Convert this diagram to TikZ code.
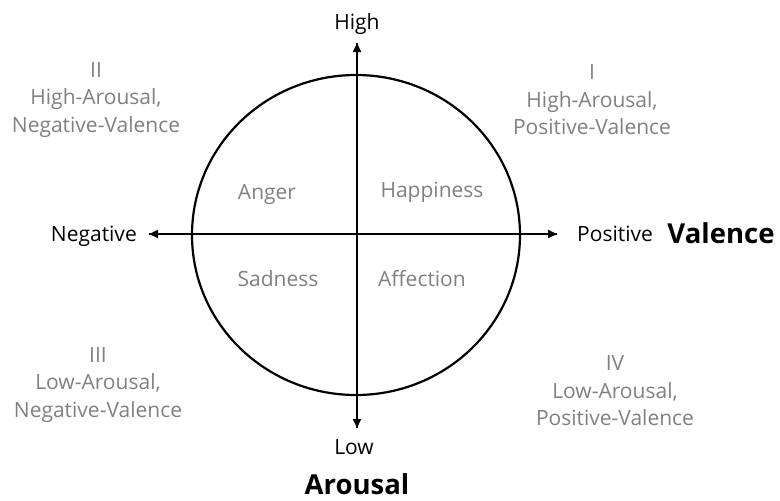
\documentclass[tikz,border=0pt]{standalone}
\usepackage{fontspec}
\setmainfont{Open Sans}
\usetikzlibrary{arrows.meta}
\definecolor{txtgray}{RGB}{128,128,128}
\begin{document}
\begin{tikzpicture}[x=1pt,y=-1pt,
  axis/.style={line width=2.2pt,-{Triangle[length=9pt,width=8pt]}},
  graytxt/.style={text=txtgray,font=\fontsize{21}{27.5}\selectfont,align=center,inner sep=0pt},
  blacktxt/.style={text=black,font=\fontsize{21}{23}\selectfont,inner sep=0pt},
  bigtxt/.style={text=black,font=\fontsize{27.5}{30}\selectfont\bfseries,inner sep=0pt}]
\useasboundingbox (0,0) rectangle (780,501);
\draw[line width=2.2pt] (356,235) ellipse [x radius=164, y radius=160];
\coordinate (L) at (149,234);
\coordinate (R) at (557,234);
\coordinate (T) at (357,43);
\coordinate (B) at (357,428);
\draw[axis] (R) -- (L);
\draw[axis] (L) -- (R);
\draw[axis] (B) -- (T);
\draw[axis] (T) -- (B);
\node[blacktxt] (high) at (357,24) {High};
\node[blacktxt] (low) at (354,447) {Low};
\node[blacktxt,anchor=east] (neg) at (137,236) {Negative};
\node[blacktxt,anchor=west] (pos) at (577,234) {Positive};
\node[bigtxt] (val) at (721,233) {Valence};
\node[bigtxt] (aro) at (357,484) {Arousal};
\node[graytxt] (q2) at (96,100) {II\\High-Arousal,\\Negative-Valence};
\node[graytxt] (q1) at (592,100) {I\\High-Arousal,\\Positive-Valence};
\node[graytxt] (q3) at (98,385) {III\\Low-Arousal,\\Negative-Valence};
\node[graytxt] (q4) at (615,391) {IV\\Low-Arousal,\\Positive-Valence};
\node[graytxt] (anger) at (267,194) {Anger};
\node[graytxt] (happy) at (432,192) {Happiness};
\node[graytxt] (sad) at (278,279) {Sadness};
\node[graytxt] (aff) at (422,279) {Affection};
\end{tikzpicture}
\end{document}
